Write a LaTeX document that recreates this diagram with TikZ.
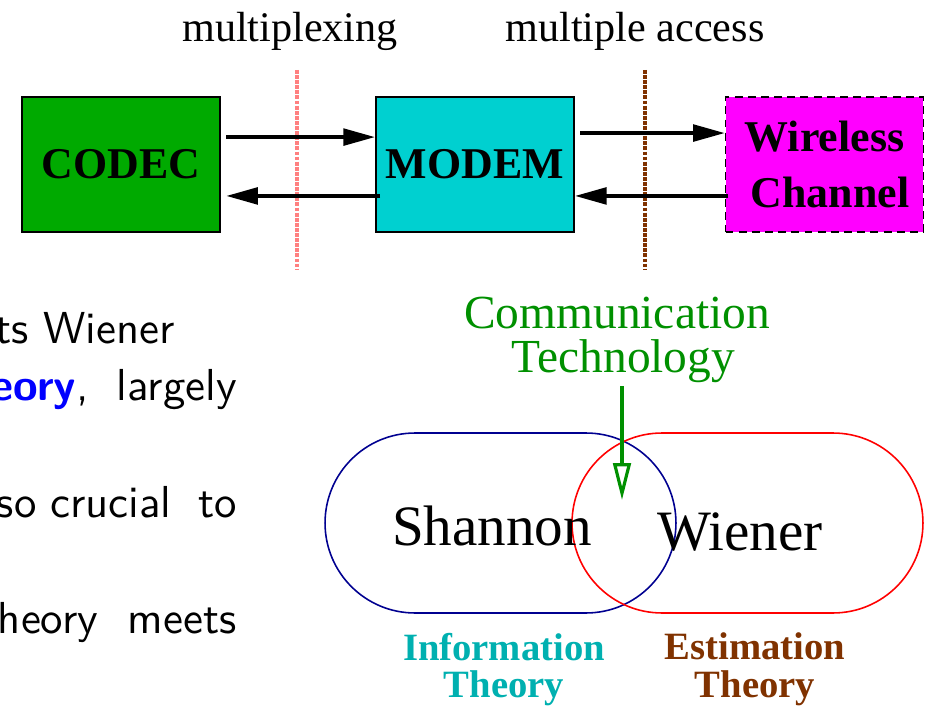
\documentclass[tikz,border=0pt]{standalone}
\usepackage{fontspec}
\setmainfont{Liberation Serif}
\newfontfamily\slidesans{lmsans10}[Extension=.otf, UprightFont=*-regular, BoldFont=*-bold]
\usetikzlibrary{arrows.meta}
\definecolor{codecgreen}{RGB}{0,170,0}
\definecolor{modemcyan}{RGB}{0,208,208}
\definecolor{chanmagenta}{RGB}{255,0,255}
\definecolor{infocyan}{RGB}{0,176,176}
\definecolor{estbrown}{RGB}{128,50,0}
\definecolor{techgreen}{RGB}{0,144,0}
\definecolor{setnavy}{RGB}{0,0,144}
\definecolor{setred}{RGB}{255,0,0}
\definecolor{keyblue}{RGB}{0,0,255}
\definecolor{muxpink}{RGB}{255,128,128}

\begin{document}
\begin{tikzpicture}[x=0.02cm,y=-0.02cm,
  blk/.style={draw, line width=1.2pt, minimum width=3.96cm, minimum height=2.7cm,
    inner sep=0pt, font=\fontsize{25}{33}\selectfont\bfseries},
  flow/.style={line width=2pt, -{Triangle[length=18pt,width=9.5pt]}},
  divider/.style={line width=2.3pt, dash pattern=on 2.2pt off 0.7pt},
  toplabel/.style={anchor=base, inner sep=0pt, font=\fontsize{24}{28}\selectfont},
  bodytext/.style={anchor=base east, inner sep=0pt, font=\fontsize{25.5}{30}\selectfont\slidesans},
  theoryset/.style={draw, rectangle, rounded corners=1.8cm, line width=0.9pt, minimum width=7.02cm, minimum height=3.6cm},
  person/.style={anchor=base, inner sep=0pt, font=\fontsize{32.5}{36}\selectfont},
  field/.style={align=center, inner sep=0pt, font=\fontsize{22}{21.5}\selectfont\bfseries}]
\useasboundingbox (0,0) rectangle (930,706);
% chain of blocks
\node[toplabel] (mux) at (290,42) {multiplexing};
\node[toplabel] (ma) at (635,42) {multiple access};
\node[blk, fill=codecgreen] (codec) at (121,164.5) {CODEC};
\node[blk, fill=modemcyan] (modem) at (475,164.5) {MODEM};
\node[blk, fill=chanmagenta, dash pattern=on 4.5pt off 3pt, line width=0.9pt, align=center]
  (wireless) at (824.5,164.5) {Wireless\\[-0.9pt]\hspace*{0.25em}Channel};
\draw[divider, muxpink] (297,70) -- (297,270);
\draw[divider, estbrown] (645,70) -- (645,270);
\draw[flow, shorten <=3pt] ([yshift=15.6pt]codec.east) -- ([yshift=15.6pt]modem.west);
\draw[flow, shorten <=-3pt, shorten >=3pt] ([yshift=-17.9pt]modem.west) -- ([yshift=-17.9pt]codec.east);
\draw[flow, shorten <=3pt] ([yshift=17.9pt]modem.east) -- ([yshift=17.9pt]wireless.west);
\draw[flow, shorten <=-2pt] ([yshift=-17.9pt]wireless.west) -- ([yshift=-17.9pt]modem.east);
% text on the left, cut by the page
\node[bodytext] (l1) at (175,343) {ts Wiener};
\node[bodytext] (l2) at (237,400) {{\bfseries\color{keyblue}eory},\hspace{16pt}largely};
\node[bodytext] (l3) at (237,517) {so\hspace{8pt}crucial\hspace{15pt}to};
\node[bodytext] (l4) at (237,633) {heory\hspace{17pt}meets};
% the two theories
\node[theoryset, setnavy] (infoset) at (500.5,523) {};
\node[theoryset, setred] (estset) at (747.5,523) {};
\node[person] (shannon) at (492,545) {Shannon};
\node[person] (wiener) at (740,550) {Wiener};
\node[align=center, inner sep=2pt, text=techgreen, font=\fontsize{27}{25}\selectfont]
  (commtech) at (617,339.5) {Communication\\\hspace*{0.27em}Technology};
\coordinate (meet) at (622,500);
\draw[techgreen, line width=1.8pt, -{Triangle[open, length=21pt, width=10pt]}]
  (commtech.south -| meet) -- (meet);
\node[field, text=infocyan] (info) at (504,669.5) {Information\\Theory};
\node[field, text=estbrown] (est) at (755,669.5) {Estimation\\Theory};
\end{tikzpicture}
\end{document}
